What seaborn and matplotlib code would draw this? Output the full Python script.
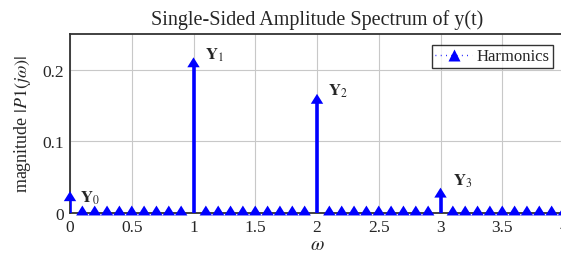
import numpy as np
import pandas as pd
import matplotlib
matplotlib.use("Agg")
import matplotlib.pyplot as plt
import seaborn as sns
from matplotlib.lines import Line2D
from matplotlib.path import Path

# ----------------------------------------------------------
# Data: spectrum sampled every 0.1 rad/s, non-zero at harmonics
# ----------------------------------------------------------
omega = [round(0.1 * k, 1) for k in range(41)]
harmonic_freq = [0.0, 1.0, 2.0, 3.0]
harmonic_amp = [0.02, 0.207, 0.156, 0.025]
harmonic_names = [r"$\mathbf{Y}_0$", r"$\mathbf{Y}_1$", r"$\mathbf{Y}_2$", r"$\mathbf{Y}_3$"]
label_offsets = [(7, 1), (8, 1), (8, 1.5), (9, 4.5)]

amp = [0.0] * len(omega)
for f, a in zip(harmonic_freq, harmonic_amp):
    amp[omega.index(f)] = a
spec = pd.DataFrame({"omega": omega, "amp": amp})

# triangle marker sitting mostly above its data point (like pgfplots)
tri = Path([(-5, -2), (5, -2), (0, 6), (-5, -2)],
           [Path.MOVETO, Path.LINETO, Path.LINETO, Path.CLOSEPOLY])

# ----------------------------------------------------------
# Style
# ----------------------------------------------------------
sns.set_style("whitegrid", {"grid.color": "#c8c8c8", "axes.edgecolor": "#333333"})
plt.rcParams["font.family"] = ["Liberation Serif", "DejaVu Serif"]
plt.rcParams["mathtext.fontset"] = "stix"

fig = plt.figure(figsize=(5.61, 2.55), dpi=100)
ax = fig.add_axes([70 / 561, 1 - 214 / 255, 494 / 561, 179 / 255])

ax.vlines(spec["omega"], 0, spec["amp"], color="blue", lw=2.6, zorder=3)
sns.scatterplot(data=spec, x="omega", y="amp", marker=tri, color="blue",
                s=115, edgecolor="none", ax=ax, zorder=4, clip_on=False)

for f, a, name, off in zip(harmonic_freq, harmonic_amp, harmonic_names, label_offsets):
    ax.annotate(name, (f, a), xytext=off, textcoords="offset points",
                fontsize=12, ha="left", va="bottom" if f > 0 else "center")

ax.set_xlim(0, 4)
ax.set_ylim(0, 0.25)
ax.set_xticks([0, 0.5, 1, 1.5, 2, 2.5, 3, 3.5, 4])
ax.set_xticklabels(["0", "0.5", "1", "1.5", "2", "2.5", "3", "3.5", "4"])
ax.set_yticks([0, 0.1, 0.2])
ax.set_yticklabels(["0", "0.1", "0.2"])
ax.tick_params(axis="x", labelsize=12.5, pad=4, length=0)
ax.tick_params(axis="y", labelsize=12.5, pad=4, length=0)
for sp in ax.spines.values():
    sp.set_linewidth(1.3)
    sp.set_color("#333333")

ax.set_xlabel(r"$\omega$", fontsize=14, labelpad=1)
ax.set_ylabel(r"magnitude $|P1(j\omega)|$", fontsize=13, labelpad=7)
ax.set_title("Single-Sided Amplitude Spectrum of y(t)", fontsize=14.5, pad=7)

handle = Line2D([], [], color="blue", lw=1, ls=(0, (0.6, 3.2)), marker="^",
                markersize=8, markeredgecolor="none")
leg = ax.legend([handle], ["Harmonics"], loc="upper right", bbox_to_anchor=(0.995, 0.985),
                frameon=True, fancybox=False, fontsize=12, handlelength=2.2,
                borderpad=0.2, handletextpad=0.3)
leg.get_frame().set_edgecolor("black")
leg.get_frame().set_linewidth(1.0)

fig.savefig("out.png", dpi=100)
